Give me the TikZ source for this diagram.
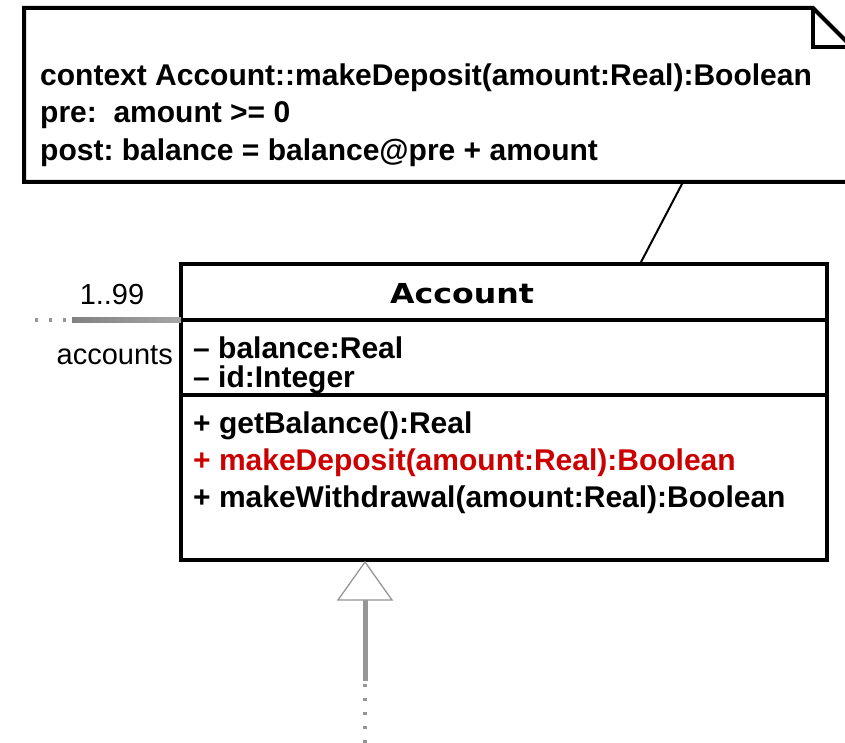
\documentclass[tikz,border=0pt]{standalone}
\usepackage{fontspec}
\setmainfont{Liberation Sans}
\newfontfamily\titlefont[FakeStretch=1.15]{DejaVu Sans}
\definecolor{opred}{RGB}{204,0,0}
\definecolor{lgray}{RGB}{150,150,150}
\tikzset{
  box/.style={draw=black, line width=4pt, fill=white},
  txt/.style={anchor=base west, inner sep=0pt, font=\fontsize{30}{34}\selectfont\bfseries\frenchspacing},
  lbl/.style={inner sep=0pt, font=\fontsize{29}{34}\selectfont},
  grayline/.style={draw=lgray, line width=5pt},
  dotgray/.style={draw=lgray, line width=4.5pt, dash pattern=on 3pt off 11pt},
}
\frenchspacing
\begin{document}
\begin{tikzpicture}[x=1pt,y=-1pt]
\useasboundingbox (0,0) rectangle (845,743);
\clip (0,0) rectangle (845,743);
% note
\draw[box, line join=miter] (24,8) -- (813,8) -- (852,47) -- (852,182) -- (24,182) -- cycle;
\draw[line width=4pt] (813,8) -- (813,47) -- (852,47);
\node[txt] (n1) at (40,86) {context Account::makeDeposit(amount:Real):Boolean};
\node[txt] (n2) at (40,123) {pre:\ \ amount >= 0};
\node[txt] (n3) at (40,161) {post: balance = balance@pre + amount};
\coordinate (noteanchor) at (683,182);
% class
\node[box, minimum width=646pt, minimum height=296pt, inner sep=0pt] (cls) at (504,412) {};
\coordinate (div1w) at (181,320); \coordinate (div1e) at (827,320);
\coordinate (div2w) at (181,395); \coordinate (div2e) at (827,395);
\draw[line width=4pt] (div1w) -- (div1e);
\draw[line width=4pt] (div2w) -- (div2e);
\node[anchor=base, inner sep=0pt, font=\titlefont\fontsize{27.5}{30}\selectfont\bfseries] (title) at (462,303) {Account};
\node[txt] (a1) at (193,358) {– balance:Real};
\node[txt] (a2) at (193,387) {– id:Integer};
\node[txt] (o1) at (193,433) {+ getBalance():Real};
\node[txt, text=opred] (o2) at (193,470) {+ makeDeposit(amount:Real):Boolean};
\node[txt] (o3) at (193,507) {+ makeWithdrawal(amount:Real):Boolean};
\coordinate (clstop) at (640,264);
\draw[line width=2pt] (noteanchor) -- (clstop);
% association
\coordinate (asend) at (72,320);
\coordinate (asfar) at (30,320);
\shade[left color={rgb,255:red,130;green,130;blue,130}, right color={rgb,255:red,165;green,165;blue,165}] (72,317.5) rectangle (181,322.5);
\draw[dotgray] (35,320) -- (asend);
\node[lbl, anchor=base] (mult) at (112,304) {1..99};
\node[lbl, anchor=base east] (role) at (173,364) {accounts};
% generalization
\coordinate (apex) at (365,562);
\coordinate (tb) at (365,600);
\coordinate (stemend) at (365,681);
\coordinate (farend) at (365,750);
\draw[grayline] (tb) -- (stemend);
\draw[dotgray, dash pattern=on 3pt off 11pt] (365,684) -- (farend);
\draw[draw=lgray, line width=1.3pt, fill=white] (apex) -- (392,600) -- (338,600) -- cycle;
\end{tikzpicture}
\end{document}
